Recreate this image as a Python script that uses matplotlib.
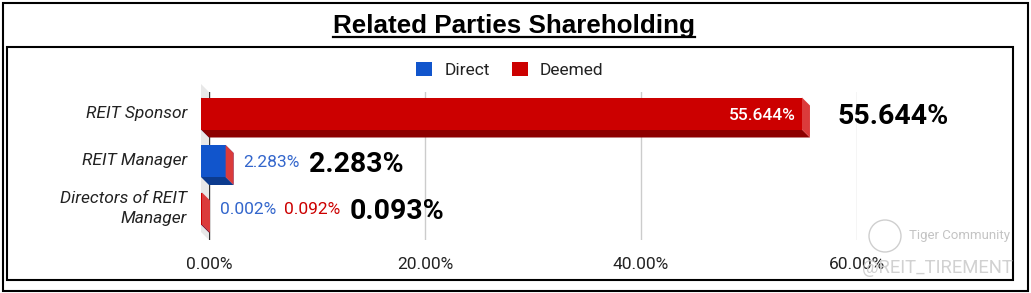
import matplotlib
matplotlib.use("Agg")
import matplotlib.pyplot as plt
from matplotlib.patches import Rectangle, Polygon, Patch, Circle
from matplotlib.lines import Line2D
import matplotlib.transforms as mtransforms

# ---------------- data ----------------
categories = ["REIT Sponsor", "REIT Manager", "Directors of REIT\nManager"]
series_names = ["Direct", "Deemed"]
direct = [0.0, 2.283, 0.002]
deemed = [55.644, 0.0, 0.092]
totals = [55.644, 2.283, 0.093]
direct_labels = [None, "2.283%", "0.002%"]
deemed_labels = ["55.644%", None, "0.092%"]
total_labels = ["55.644%", "2.283%", "0.093%"]
xticks = [0, 20, 40, 60]
xtick_labels = ["0.00%", "20.00%", "40.00%", "60.00%"]
title = "Related Parties Shareholding"

# ---------------- styles ----------------
FONT = ["Roboto", "DejaVu Sans"]
colors = {
    "Direct": dict(front="#1155CC", side="#3a6fd6", bottom="#0c3b8e", text="#3366CC"),
    "Deemed": dict(front="#CC0000", side="#DB3B3B", bottom="#8E0000", text="#CC0000"),
}

W, H = 1031, 293
fig = plt.figure(figsize=(W / 100, H / 100), dpi=100)
fig.patch.set_facecolor("white")


def fx(px):
    return px / W


def fy(py):
    return 1 - py / H


# frames
fig.add_artist(Rectangle((fx(3), fy(291)), (1028 - 3) / W, (291 - 3) / H,
                         transform=fig.transFigure, fill=False, ec="black", lw=1.5))
fig.add_artist(Rectangle((fx(7), fy(280)), (1013 - 7) / W, (280 - 47) / H,
                         transform=fig.transFigure, fill=False, ec="black", lw=1.5))

# title (fit width to reference)
t_title = fig.text(fx(514), fy(33), title, ha="center", va="baseline",
                   fontsize=18, fontweight="bold",
                   family=["Liberation Sans", "DejaVu Sans"], color="black")
fig.canvas.draw()
renderer = fig.canvas.get_renderer()
wcur = t_title.get_window_extent(renderer).width
t_title.set_fontsize(18 * 362 / wcur)

# axes
ax_l, ax_r, ax_t, ax_b = 209, 857, 92, 240
ax = fig.add_axes([fx(ax_l), fy(ax_b), (ax_r - ax_l) / W, (ax_b - ax_t) / H])
ax.set_xlim(xticks[0], xticks[-1])
row_px = 47.5
first_center = 121.5
ax.set_ylim((ax_b - first_center) / row_px, (ax_t - first_center) / row_px)
for s in ax.spines.values():
    s.set_visible(False)
ax.set_yticks([])
ax.set_xticks(xticks, xtick_labels)
ax.tick_params(axis="x", length=0, pad=12, labelsize=12.5, labelcolor="#222222")
for lab in ax.get_xticklabels():
    lab.set_family(FONT)
ax.patch.set_alpha(0)

px_per_x = (ax_r - ax_l) / (xticks[-1] - xticks[0])
D = 8
dx = D / px_per_x
dy = D / row_px
bar_h = 32 / row_px

y0lim, y1lim = ax.get_ylim()  # bottom (larger), top (smaller)

# back-left wall
wall = Polygon([(0, y1lim), (-dx, y1lim - dy), (-dx, y0lim - dy), (0, y0lim)],
               closed=True, fc="#e8e8e8", ec="none", clip_on=False, zorder=0.5)
ax.add_patch(wall)

# gridlines
for xv in xticks[1:]:
    ax.axvline(xv, color="#cccccc", lw=1, zorder=1)
ax.axvline(0, color="#333333", lw=1, zorder=1.5)

# bars (3D look)
z = 2
for i in range(len(categories)):
    cum = 0.0
    for name, vals in zip(series_names, [direct, deemed]):
        v = vals[i]
        c = colors[name]
        x0, x1 = cum, cum + v
        ya, yb = i - bar_h / 2, i + bar_h / 2
        bottom = Polygon([(x0 - dx, yb - dy), (x1 - dx, yb - dy), (x1, yb), (x0, yb)],
                         closed=True, fc=c["bottom"], ec="none", clip_on=False, zorder=z)
        side = Polygon([(x1 - dx, ya - dy), (x1, ya), (x1, yb), (x1 - dx, yb - dy)],
                       closed=True, fc=c["side"], ec="none", clip_on=False, zorder=z)
        front = Rectangle((x0 - dx, ya - dy), v, bar_h, fc=c["front"], ec="none",
                          clip_on=False, zorder=z + 0.5)
        ax.add_patch(bottom)
        ax.add_patch(side)
        ax.add_patch(front)
        z += 1
        cum = x1

# category labels
for i, cat in enumerate(categories):
    ax.text(-dx, i - dy, cat,
            transform=ax.transData + mtransforms.ScaledTranslation(-14 / 100, 0, fig.dpi_scale_trans),
            ha="right", va="center", fontsize=12.5, style="italic", family=FONT,
            color="#222222", linespacing=1.4, clip_on=False)

# annotations
fig.canvas.draw()
blend = mtransforms.blended_transform_factory(mtransforms.IdentityTransform(), ax.transData)
for i in range(len(categories)):
    yc = i - dy
    end_px = ax.transData.transform((totals[i], 0))[0]
    front_end_px = ax.transData.transform((direct[i] + deemed[i] - dx, 0))[0]
    cursor = end_px + 10
    if deemed_labels[i] is not None and deemed[i] > 10:
        ax.text(front_end_px - 6, yc, deemed_labels[i], transform=blend, ha="right",
                va="center_baseline", fontsize=12.5, fontweight="medium", family=FONT,
                color="white", zorder=20, clip_on=False)
        cursor = end_px + 28
    else:
        for lab, name in [(direct_labels[i], "Direct"), (deemed_labels[i], "Deemed")]:
            if lab is None:
                continue
            t = ax.text(cursor, yc, lab, transform=blend, ha="left", va="center_baseline",
                        fontsize=12.5, family=FONT, color=colors[name]["text"],
                        zorder=20, clip_on=False)
            cursor = t.get_window_extent(renderer).x1 + 8
        cursor += 1
    ax.text(cursor, yc, total_labels[i], transform=blend, ha="left", va="center_baseline",
            fontsize=20.5, fontweight="bold", family=FONT, color="black", zorder=20,
            clip_on=False)

# legend
handles = [Patch(fc=colors[n]["front"], ec="none") for n in series_names]
fig.legend(handles, series_names, loc="center", bbox_to_anchor=(fx(510), fy(70)),
           ncol=2, frameon=False, handlelength=0.9, handleheight=0.9,
           handletextpad=0.7, columnspacing=1.3,
           prop={"family": FONT, "size": 12.5}, labelcolor="#222222")

# title underline
fig.canvas.draw()
bb = t_title.get_window_extent(renderer)
uy = fy(36.5)
fig.add_artist(Line2D([bb.x0 / W, bb.x1 / W], [uy, uy], transform=fig.transFigure,
                      color="black", lw=1.6))

# watermark
fig.add_artist(Circle((885 / 100, (H - 236) / 100), 0.16, transform=fig.dpi_scale_trans,
                      fill=False, ec="#cfcfcf", lw=1))
fig.text(fx(909), fy(236), "Tiger Community", ha="left", va="center", fontsize=9.5,
         family=FONT, color="#c4c4c4")
fig.text(fx(862), fy(268), "@REIT_TIREMENT", ha="left", va="center", fontsize=13.3,
         family=FONT, color="#cccccc", alpha=0.9)

fig.savefig("out.png", dpi=100)
